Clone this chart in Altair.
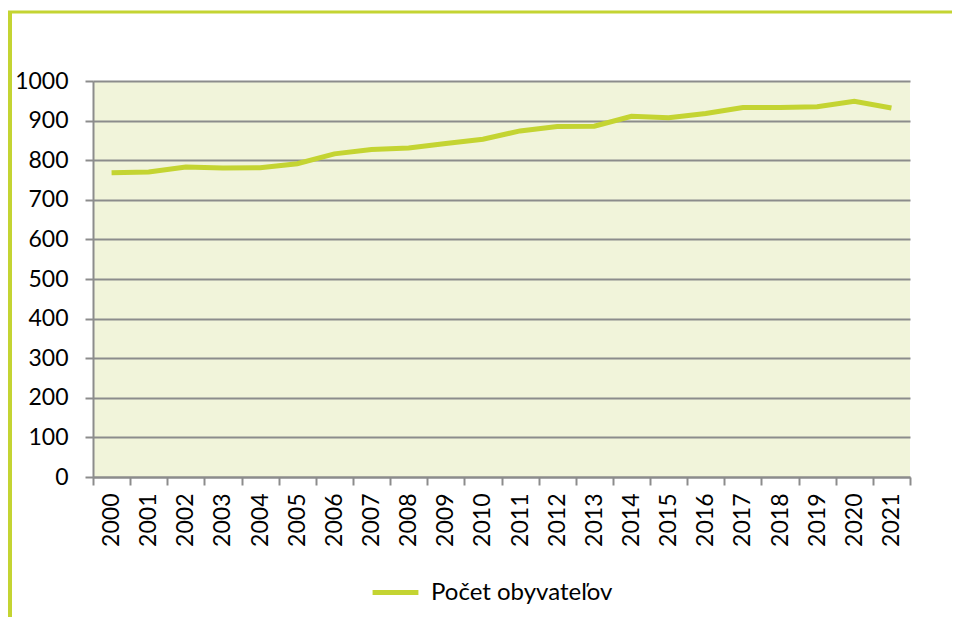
import altair as alt
import pandas as pd

years = [str(y) for y in range(2000, 2022)]
population = [768, 770, 783, 780, 781, 791, 816, 827, 831, 842, 853, 874,
              885, 886, 911, 907, 918, 933, 933, 935, 949, 932]
series_name = "Počet obyvateľov"

df = pd.DataFrame({"year": years, "value": population, "series": series_name})

FONT = "Lato"
FS = 23
GREEN = "#c4d432"
GRID = "#8c8c8c"

line = alt.Chart(df).mark_line(strokeWidth=5, color=GREEN).encode(
    x=alt.X("year:O", bandPosition=0.5,
            scale=alt.Scale(type="band", paddingInner=0, paddingOuter=0),
            axis=alt.Axis(title=None, labelAngle=-90, labelFontSize=FS, labelColor="#000",
                          labelFont=FONT, tickBand="extent", tickSize=8, tickColor=GRID,
                          tickWidth=2, domainColor=GRID, domainWidth=2, labelPadding=8,
                          grid=False)),
    y=alt.Y("value:Q", scale=alt.Scale(domain=[0, 1000], nice=False),
            axis=alt.Axis(title=None, values=list(range(0, 1001, 100)), format="d",
                          labelFontSize=FS,
                          labelColor="#000", labelFont=FONT, tickSize=8, tickColor=GRID,
                          tickWidth=2, domainColor=GRID, domainWidth=2, labelPadding=17,
                          gridColor=GRID, gridWidth=2, gridOpacity=1)),
    color=alt.Color("series:N", scale=alt.Scale(range=[GREEN]),
                    legend=alt.Legend(title=None, orient="none", legendX=277, legendY=486,
                                      symbolType="stroke", symbolStrokeWidth=5,
                                      symbolSize=2100, labelFontSize=24, labelFont=FONT,
                                      labelColor="#000", labelLimit=400, labelOffset=10)),
)

frame_df = pd.DataFrame({"a": [0]})
top_border = alt.Chart(frame_df).mark_rule(color=GREEN, strokeWidth=3).encode(
    x=alt.value(-85), x2=alt.value(870), y=alt.value(-69))
left_border = alt.Chart(frame_df).mark_rule(color=GREEN, strokeWidth=4).encode(
    x=alt.value(-83), y=alt.value(-70), y2=alt.value(540))

chart = alt.layer(line, top_border, left_border).properties(
    width=817, height=396,
    autosize=alt.AutoSizeParams(type="none"),
    padding={"left": 85, "top": 73, "right": 42, "bottom": 140},
    background="white",
).configure_view(fill="#f1f4da", stroke=None)

chart.save("out.html", embed_options={"renderer": "svg", "actions": False})
